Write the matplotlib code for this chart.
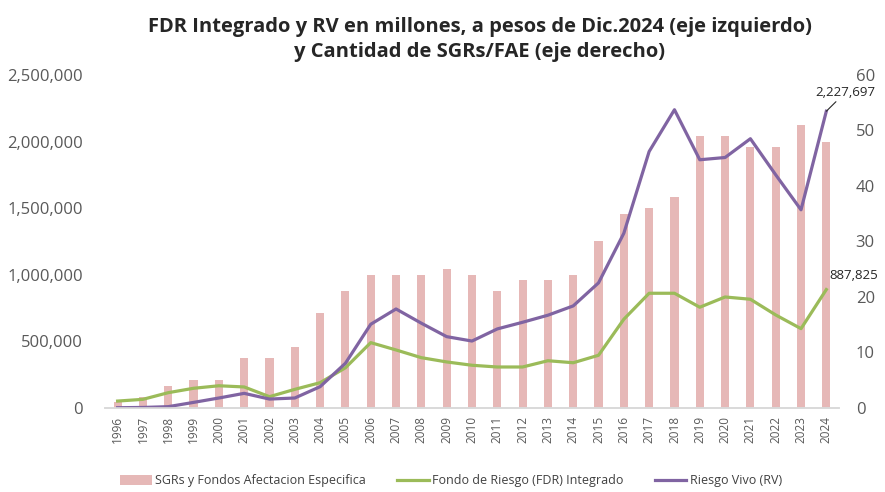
import matplotlib
matplotlib.use("Agg")
import matplotlib.pyplot as plt
from matplotlib.ticker import FuncFormatter

plt.rcParams['font.family'] = ['Open Sans', 'DejaVu Sans']

years = [str(y) for y in range(1996, 2025)]
sgrs = [1, 2, 4, 5, 5, 9, 9, 11, 17, 21, 24, 24, 24, 25, 24, 21, 23, 23, 24,
        30, 35, 36, 38, 49, 49, 47, 47, 51, 48]
fdr = [50000, 63000, 113000, 146000, 165000, 156000, 83000, 138000, 188000, 300000,
       489000, 434000, 376000, 344000, 319000, 306000, 306000, 353000, 338000, 394000,
       665000, 860000, 860000, 755000, 832000, 815000, 697000, 594000, 887825]
rv = [0, 2000, 8000, 40000, 73000, 108000, 65000, 73000, 158000, 334000,
      627000, 742000, 635000, 534000, 501000, 592000, 642000, 695000, 765000, 938000,
      1311000, 1925000, 2239000, 1863000, 1880000, 2021000, 1750000, 1487000, 2227697]

c_bar = "#E6B8B7"
c_fdr = "#9BBB59"
c_rv = "#8064A2"
c_txt = "#595959"

fig = plt.figure(figsize=(8.85, 4.92), dpi=100)
ax = fig.add_axes([0.1186, 0.1713, 0.8294, 0.6763])
ax2 = ax.twinx()

x = list(range(len(years)))
bars = ax2.bar(x, sgrs, width=0.32, color=c_bar, label="SGRs y Fondos Afectacion Especifica")
l1, = ax.plot(x, fdr, color=c_fdr, lw=2.3, label="Fondo de Riesgo (FDR) Integrado")
l2, = ax.plot(x, rv, color=c_rv, lw=2.3, label="Riesgo Vivo (RV)")
ax.set_zorder(ax2.get_zorder() + 1)
ax.patch.set_visible(False)

ax.set_xlim(-0.5, len(years) - 0.5)
ax.set_ylim(0, 2500000)
ax2.set_ylim(0, 60)
ax.set_yticks(range(0, 2500001, 500000))
ax2.set_yticks(range(0, 61, 10))
ax.yaxis.set_major_formatter(FuncFormatter(lambda v, p: "{:,.0f}".format(v)))
ax.set_xticks(x)
ax.set_xticklabels(years, rotation=90, fontsize=8.5, color=c_txt)
ax.tick_params(axis='y', labelsize=12, colors=c_txt, length=0, pad=16)
ax2.tick_params(axis='y', labelsize=12, colors=c_txt, length=0, pad=12)
ax.tick_params(axis='x', length=0, pad=6)

for a in (ax, ax2):
    for s in ['top', 'left', 'right']:
        a.spines[s].set_visible(False)
    a.spines['bottom'].set_color("#D9D9D9")
    a.spines['bottom'].set_linewidth(1.2)

ax.annotate("{:,}".format(rv[-1]), xy=(x[-1], rv[-1]), xytext=(x[-1] + 0.75, 2320000),
            fontsize=9.5, color="#262626", ha='center', va='bottom',
            arrowprops=dict(arrowstyle='-', color="#262626", lw=0.8, shrinkA=0, shrinkB=0))
ax.annotate("{:,}".format(fdr[-1]), xy=(x[-1], fdr[-1]), xytext=(x[-1] + 1.1, fdr[-1] + 60000),
            fontsize=9.5, color="#262626", ha='center', va='bottom')

fig.text(0.542, 0.965, "FDR Integrado y RV en millones, a pesos de Dic.2024 (eje izquierdo)\n"
         "y Cantidad de SGRs/FAE (eje derecho)", ha='center', va='top',
         fontsize=14.5, fontweight='bold', color="#262626", linespacing=1.35)

fig.legend(handles=[bars, l1, l2], loc='center', bbox_to_anchor=(0.51, 0.023), ncol=3,
           frameon=False, fontsize=9, labelcolor="#404040", handlelength=2.5,
           handleheight=0.8, columnspacing=2.5, handletextpad=0.3)

fig.savefig("out.png", dpi=100)
